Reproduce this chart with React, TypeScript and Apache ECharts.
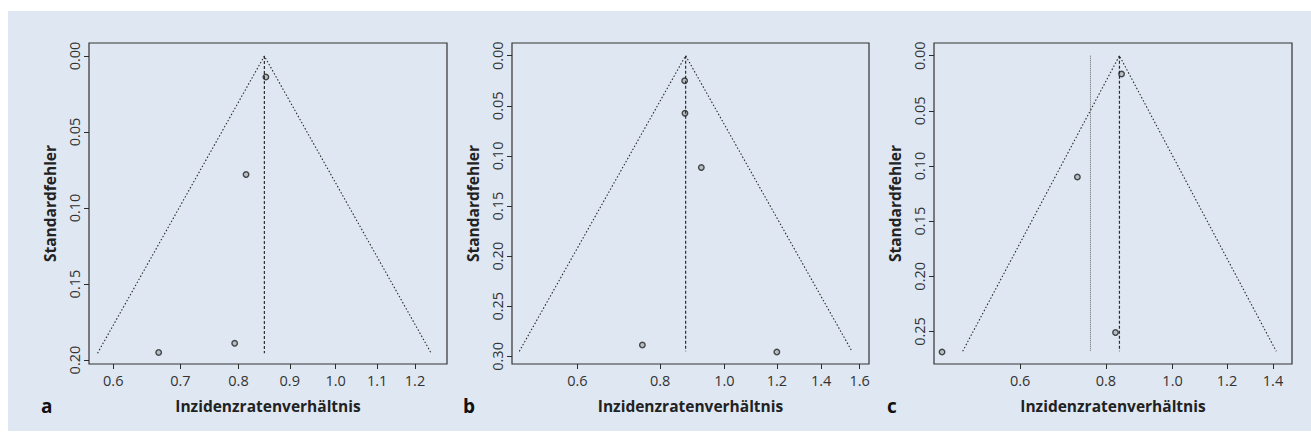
import React, { useEffect, useRef } from "react";
import * as echarts from "echarts";

// ---- data ----
const panelLetters = ["a", "b", "c"];
const xTitle = "Inzidenzratenverhältnis";
const yTitle = "Standardfehler";

const irrA = [0.852, 0.814, 0.793, 0.666];
const seA = [0.0138, 0.078, 0.189, 0.195];
const irrB = [0.871, 0.872, 0.923, 0.752, 1.2];
const seB = [0.025, 0.0574, 0.1116, 0.2887, 0.2957];
const irrC = [0.843, 0.727, 0.826, 0.462];
const seC = [0.0166, 0.11, 0.251, 0.2687];

const pooledEstimates = [0.849, 0.874, 0.837];
const maxStdErrors = [0.1955, 0.295, 0.268];
const extraLineC = 0.7596;

const xTicksA = [0.6, 0.7, 0.8, 0.9, 1.0, 1.1, 1.2];
const xTicksB = [0.6, 0.8, 1.0, 1.2, 1.4, 1.6];
const xTicksC = [0.6, 0.8, 1.0, 1.2, 1.4];
const yTicksA = [0, 0.05, 0.1, 0.15, 0.2];
const yTicksB = [0, 0.05, 0.1, 0.15, 0.2, 0.25, 0.3];
const yTicksC = [0, 0.05, 0.1, 0.15, 0.2, 0.25];

const xRangeA = [0.5675, 1.2915];
const xRangeB = [0.478, 1.653];
const xRangeC = [0.4497, 1.492];
const yRangeA = [-0.00855, 0.2026];
const yRangeB = [-0.01266, 0.3076];
const yRangeC = [-0.0115, 0.2795];

const Z = 1.96;

export default function App() {
  const ref = useRef<HTMLDivElement>(null);

  useEffect(() => {
    if (!ref.current) return;
    const chart = echarts.init(ref.current, undefined, { renderer: "svg" });

    const irrs = [irrA, irrB, irrC];
    const ses = [seA, seB, seC];
    const xTicks = [xTicksA, xTicksB, xTicksC];
    const yTicks = [yTicksA, yTicksB, yTicksC];
    const xRanges = [xRangeA, xRangeB, xRangeC];
    const yRanges = [yRangeA, yRangeB, yRangeC];

    const grids = [
      { left: 89, top: 43, width: 358, height: 321 },
      { left: 512, top: 43, width: 357, height: 321 },
      { left: 934, top: 43, width: 358, height: 321 },
    ].map((g) => ({
      ...g,
      show: true,
      borderColor: "#333",
      borderWidth: 1.2,
      backgroundColor: "transparent",
    }));

    const font = "'Open Sans', 'Noto Sans', sans-serif";
    const dark = "#2b2b2b";

    const xAxes = [0, 1, 2].map((i) => ({
      type: "value",
      gridIndex: i,
      position: "bottom",
      min: Math.log(xRanges[i][0]),
      max: Math.log(xRanges[i][1]),
      name: xTitle,
      nameLocation: "middle",
      nameGap: 34,
      nameTextStyle: { fontFamily: font, fontWeight: "bold", fontSize: 15.5, color: "#222" },
      axisLine: { show: false, onZero: false },
      splitLine: { show: false },
      axisTick: {
        show: true,
        length: 5,
        lineStyle: { color: dark, width: 1 },
        customValues: xTicks[i].map((v) => Math.log(v)),
      },
      axisLabel: {
        fontFamily: font,
        fontSize: 14.5,
        color: "#333",
        margin: 9,
        customValues: xTicks[i].map((v) => Math.log(v)),
        formatter: (v: number) => Math.exp(v).toFixed(1),
      },
    }));

    const yAxes = [0, 1, 2].map((i) => ({
      type: "value",
      gridIndex: i,
      position: "left",
      inverse: true,
      min: yRanges[i][0],
      max: yRanges[i][1],
      name: yTitle,
      nameLocation: "middle",
      nameGap: 31,
      nameTextStyle: { fontFamily: font, fontWeight: "bold", fontSize: 15.5, color: "#222" },
      axisLine: { show: false, onZero: false },
      splitLine: { show: false },
      axisTick: {
        show: true,
        length: 5,
        lineStyle: { color: dark, width: 1 },
        customValues: yTicks[i],
      },
      axisLabel: {
        fontFamily: font,
        fontSize: 14.5,
        color: "#333",
        rotate: 90,
        margin: 7,
        customValues: yTicks[i],
        formatter: (v: number) => v.toFixed(2),
      },
    }));

    const series: any[] = [];
    for (let i = 0; i < 3; i++) {
      const lp = Math.log(pooledEstimates[i]);
      const s = maxStdErrors[i];
      series.push({
        type: "line",
        xAxisIndex: i,
        yAxisIndex: i,
        data: [
          [lp - Z * s, s],
          [lp, 0],
          [lp + Z * s, s],
        ],
        symbol: "none",
        lineStyle: { color: dark, width: 1.1, type: [1.5, 2] },
        silent: true,
        z: 3,
      });
      series.push({
        type: "line",
        xAxisIndex: i,
        yAxisIndex: i,
        data: [
          [lp, 0],
          [lp, s],
        ],
        symbol: "none",
        lineStyle: { color: dark, width: 1.2, type: [3, 2] },
        silent: true,
        z: 3,
      });
      if (i === 2) {
        const le = Math.log(extraLineC);
        series.push({
          type: "line",
          xAxisIndex: i,
          yAxisIndex: i,
          data: [
            [le, 0],
            [le, s],
          ],
          symbol: "none",
          lineStyle: { color: "#666", width: 1, type: [1, 1] },
          silent: true,
          z: 3,
        });
      }
      series.push({
        type: "scatter",
        xAxisIndex: i,
        yAxisIndex: i,
        data: irrs[i].map((v, k) => [Math.log(v), ses[i][k]]),
        symbol: "circle",
        symbolSize: 5.5,
        itemStyle: { color: "rgba(60,60,60,0.3)", borderColor: "#222", borderWidth: 1.4 },
        z: 4,
      });
    }

    const letterX = [41, 463, 887];
    const graphic = panelLetters.map((t, i) => ({
      type: "text",
      left: letterX[i],
      top: 396,
      style: {
        text: t,
        font: `bold 19px ${font}`,
        fill: "#111",
      },
    }));

    chart.setOption({
      animation: false,
      backgroundColor: "transparent",
      textStyle: { fontFamily: font },
      grid: grids,
      xAxis: xAxes,
      yAxis: yAxes,
      series,
      graphic,
    });

    return () => chart.dispose();
  }, []);

  return (
    <div
      style={{
        position: "fixed",
        left: 0,
        top: 0,
        width: 1311,
        height: 443,
        background: "#ffffff",
        overflow: "hidden",
      }}
    >
      <div
        style={{
          position: "absolute",
          left: 8,
          top: 11,
          width: 1303,
          height: 420,
          background: "#dfe8f2",
        }}
      />
      <div ref={ref} style={{ position: "absolute", left: 0, top: 0, width: 1311, height: 443 }} />
    </div>
  );
}
